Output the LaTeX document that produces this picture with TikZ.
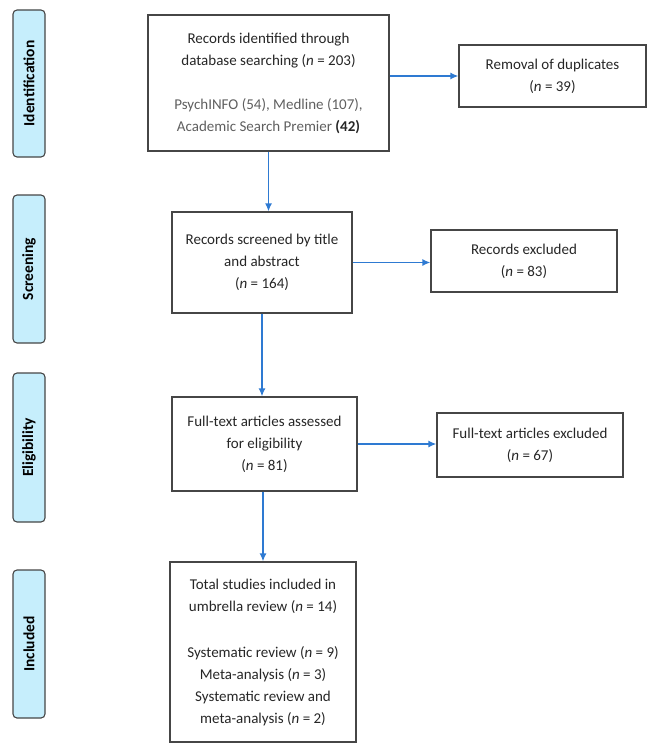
\documentclass[tikz,border=0pt]{standalone}
\usepackage{fontspec}
\setmainfont{Carlito}
\usetikzlibrary{arrows.meta}

\definecolor{flowblue}{RGB}{46,122,210}
\definecolor{stagefill}{RGB}{198,238,252}
\definecolor{boxline}{RGB}{70,70,70}
\definecolor{subgrey}{RGB}{95,95,95}

\begin{document}
\begin{tikzpicture}[->, >={Latex[length=8pt,width=7pt]}, x=1pt, y=-1pt, font=\fontsize{15}{22}\selectfont]
	\tikzstyle{stage}=[draw=boxline, fill=stagefill, rounded corners=4pt, line width=1.1pt, rotate=90, minimum height=32pt, inner sep=0pt, font=\fontsize{15.5}{18}\selectfont\bfseries]
	\tikzstyle{record}=[draw=boxline, line width=1.3pt, align=center, inner sep=0pt, text=black!85]
	\tikzstyle{flow}=[color=flowblue, line width=1.3pt]

	\useasboundingbox (0,0) rectangle (657,749);

	% stages on the left
	\node[stage, minimum width=147pt] at (29, 83.5)  (ident) {Identification};
	\node[stage, minimum width=148pt] at (29, 269)   (screen) {Screening};
	\node[stage, minimum width=149pt] at (29, 447.5) (elig) {Eligibility};
	\node[stage, minimum width=148pt] at (29, 644)   (incl) {Included};

	% records
	\node[record, minimum width=241pt, minimum height=136pt] at (268.5, 83) (rec) {Records identified through\\database searching (\textit{n} = 203)\\[22pt]{\color{subgrey}PsychINFO (54), Medline (107),}\\{\color{subgrey}Academic Search Premier} \textbf{(42)}};
	\node[record, minimum width=187pt, minimum height=62pt] at (552.5, 76) (dup) {Removal of duplicates\\(\textit{n} = 39)};
	\node[record, minimum width=180pt, minimum height=101pt] at (262, 262.5) (scr) {Records screened by title\\and abstract\\(\textit{n} = 164)};
	\node[record, minimum width=186pt, minimum height=62pt] at (524, 261) (excl) {Records excluded\\(\textit{n} = 83)};
	\node[record, minimum width=185pt, minimum height=94pt] at (264.5, 444) (full) {Full-text articles assessed\\for eligibility\\(\textit{n} = 81)};
	\node[record, minimum width=186pt, minimum height=64pt] at (530, 445) (fexcl) {Full-text articles excluded\\(\textit{n} = 67)};
	\node[record, minimum width=186pt, minimum height=180pt] at (263, 652) (tot) {Total studies included in\\umbrella review (\textit{n} = 14)\\[24pt]Systematic review (\textit{n} = 9)\\Meta-analysis (\textit{n} = 3)\\Systematic review and\\meta-analysis (\textit{n} = 2)};

	\path[flow]
		(rec.east |- dup.west) edge (dup.west)
		(rec.south) edge (rec.south |- scr.north)
		(scr.east) edge (scr.east -| excl.west)
		(scr.south) edge (scr.south |- full.north)
		(full.east) edge (full.east -| fexcl.west)
		(tot.north |- full.south) edge (tot.north);
\end{tikzpicture}
\end{document}
